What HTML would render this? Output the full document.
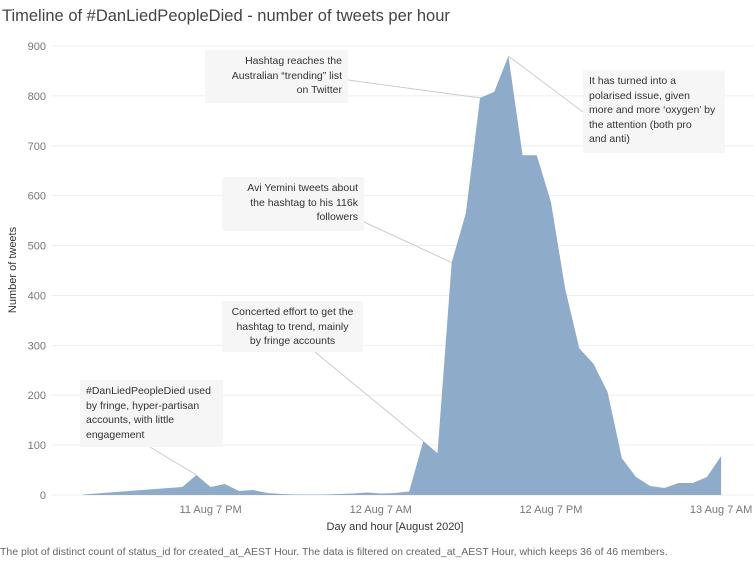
<!DOCTYPE html>
<html><head><meta charset="utf-8"><style>
body{margin:0;background:#fff;font-family:"Liberation Sans",sans-serif;}
#wrap{position:relative;width:754px;height:562px;overflow:hidden;}
.ann{position:absolute;background:#f6f6f6;color:#333;font-size:10.5px;line-height:14.5px;padding:4px 6px;box-sizing:border-box;white-space:nowrap;}
</style></head><body>
<div id="wrap">
<div style="position:absolute;left:2px;top:7px;font-size:16.5px;color:#444;">Timeline of #DanLiedPeopleDied - number of tweets per hour</div>
<svg id="chart" width="754" height="562" style="position:absolute;left:0;top:0"></svg>
<div class="ann" style="left:205px;top:50px;width:143px;height:53px;text-align:right;">Hashtag reaches the<br>Australian “trending” list<br>on Twitter</div>
<div class="ann" style="left:583px;top:70px;width:142px;height:83px;">It has turned into a<br>polarised issue, given<br>more and more ‘oxygen’ by<br>the attention (both pro<br>and anti)</div>
<div class="ann" style="left:222px;top:177px;width:142px;height:54px;text-align:right;">Avi Yemini tweets about<br>the hashtag to his 116k<br>followers</div>
<div class="ann" style="left:222px;top:301px;width:141px;height:51px;text-align:center;">Concerted effort to get the<br>hashtag to trend, mainly<br>by fringe accounts</div>
<div class="ann" style="left:80px;top:380px;width:143px;height:67px;">#DanLiedPeopleDied used<br>by fringe, hyper-partisan<br>accounts, with little<br>engagement</div>
<div style="position:absolute;left:0;top:546px;font-size:10.5px;color:#666;white-space:nowrap;">The plot of distinct count of status_id for created_at_AEST Hour. The data is filtered on created_at_AEST Hour, which keeps 36 of 46 members.</div>
</div>
<script>
const hours=[0,7,8,9,10,11,12,13,14,15,16,17,18,19,20,21,22,23,24,25,26,27,28,29,30,31,32,33,34,35,36,37,38,39,40,41,42,43,44,45];
const tweets=[1,16,40,16,22,8,10,4,2,1,1,1,2,3,5,3,4,7,108,84,466,565,796,808,880,681,681,587,414,294,263,206,74,36,18,14,24,24,36,78];
const yTicks=[0,100,200,300,400,500,600,700,800,900];
const xTickHours=[9,21,33,45];
const xTickLabels=["11 Aug 7 PM","12 Aug 7 AM","12 Aug 7 PM","13 Aug 7 AM"];
const NS="http://www.w3.org/2000/svg";
const svg=document.getElementById('chart');
function x(h){return 83+h*14.18;}
function y(v){return 495-v*0.4989;}
function mk(t,a){const e=document.createElementNS(NS,t);for(const k in a)e.setAttribute(k,a[k]);svg.appendChild(e);return e;}
yTicks.forEach(v=>{
 const g=mk('line',{x1:52,x2:754,y1:y(v),y2:y(v),stroke:'#eeeeee','stroke-width':1});
 
 
 const t=mk('text',{x:46,y:y(v)+4,'text-anchor':'end','font-size':11,fill:'#777','font-family':'Liberation Sans, sans-serif'});
 t.textContent=v;
 
 
});
let d='M'+x(hours[0])+','+y(0);
hours.forEach((h,i)=>{d+=' L'+x(h)+','+y(tweets[i]);});
d+=' L'+x(hours[hours.length-1])+','+y(0)+' Z';
const area=mk('path',{d:d,fill:'#8eabc9'});


function vAt(h){return tweets[hours.indexOf(h)];}
const leaders=[[348,80,28],[583,112,30],[364,222,26],[315,352,24],[150,447,8]];
for(const l of leaders){
 const ln=mk('line',{x1:l[0],y1:l[1],x2:x(l[2]),y2:y(vAt(l[2])),stroke:'#ccc'});
 
 
}
xTickHours.forEach((h,i)=>{
 const t=mk('text',{x:x(h),y:513,'text-anchor':'middle','font-size':11,fill:'#777','font-family':'Liberation Sans, sans-serif'});
 t.textContent=xTickLabels[i];
 
 
});
const xt=mk('text',{x:395,y:530,'text-anchor':'middle','font-size':11,fill:'#333','font-family':'Liberation Sans, sans-serif'});
xt.textContent='Day and hour [August 2020]';


const yt=mk('text',{x:0,y:0,'text-anchor':'middle','font-size':11,fill:'#333','font-family':'Liberation Sans, sans-serif',transform:'translate(16,270) rotate(-90)'});
yt.textContent='Number of tweets';


</script>
</body></html>
